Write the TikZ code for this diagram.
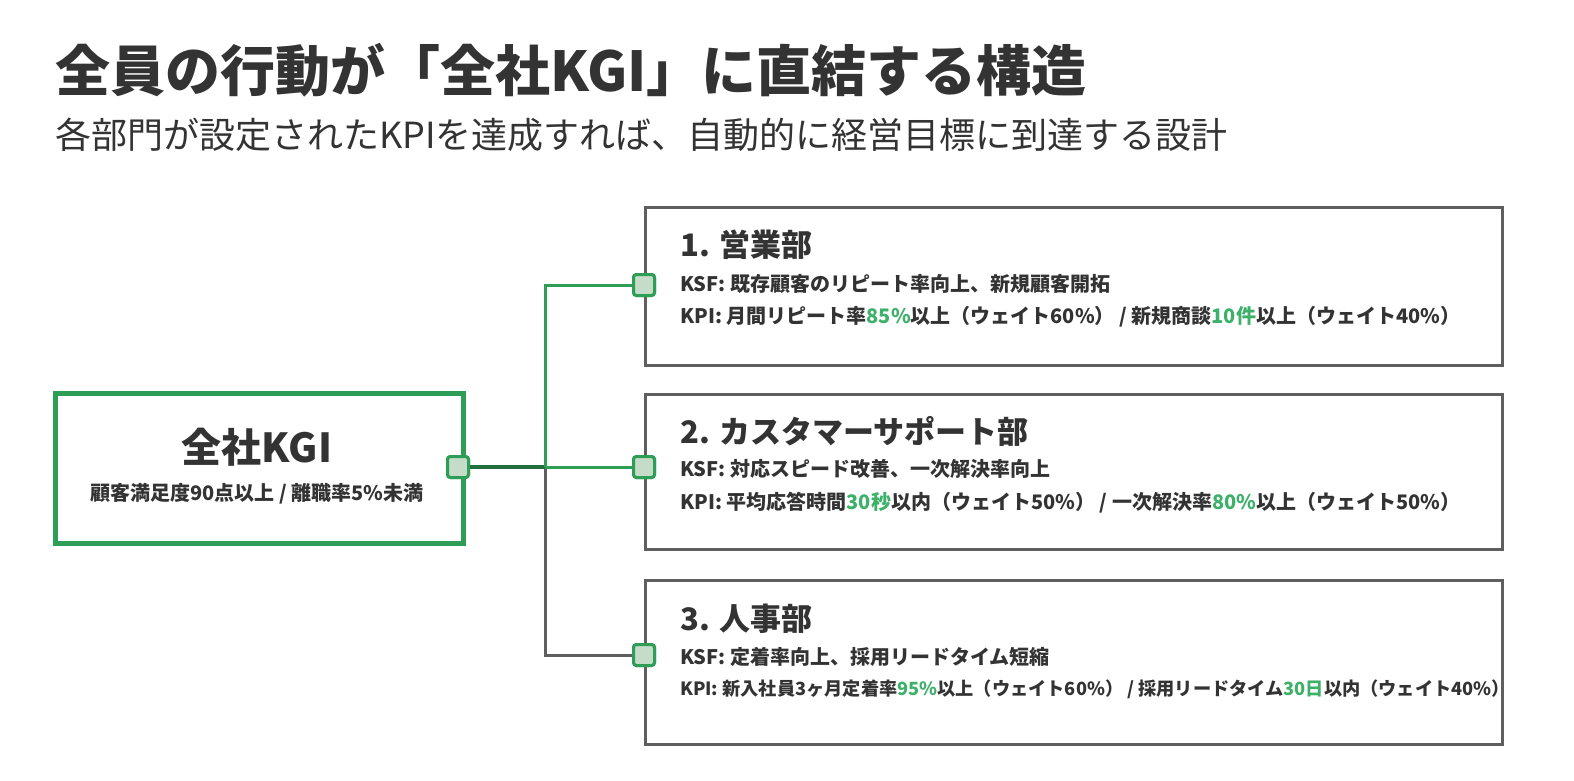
\documentclass[tikz,border=0pt]{standalone}
\usepackage{fontspec}
\setmainfont{Noto Sans CJK JP}
\usetikzlibrary{positioning}
\definecolor{kgigreen}{HTML}{2E9E57}
\definecolor{numgreen}{HTML}{3DB06A}
\definecolor{portfill}{HTML}{C4DCC8}
\definecolor{boxgray}{HTML}{5F5F5F}
\definecolor{inkgray}{HTML}{333333}
\newcommand{\hl}[1]{\textcolor{numgreen}{#1}}
\tikzset{
  dept/.style={draw=boxgray, line width=3pt, minimum width=857pt, minimum height=158pt, anchor=north west},
  port/.style={draw=kgigreen, fill=portfill, line width=3pt, rounded corners=3pt, minimum size=21pt, inner sep=0pt},
  line/.style={text=inkgray, anchor=west, font=\fontsize{20}{22}\selectfont\bfseries, inner sep=0pt},
  head/.style={text=inkgray, anchor=west, font=\fontsize{31}{34}\selectfont\bfseries, inner sep=0pt},
}
\begin{document}
\begin{tikzpicture}[x=1pt,y=-1pt]
   % Border.
   \useasboundingbox (0,0) rectangle (1574,780);
   % Text.
   \node[text=inkgray, anchor=west, inner sep=0pt, font=\fontsize{55}{60}\selectfont\bfseries] (title) at (55,70) {全員の行動が「全社KGI」に直結する構造};
   \node[text=inkgray, anchor=west, inner sep=0pt, font=\fontsize{36}{40}\selectfont] (subtitle) at (55,135) {各部門が設定されたKPIを達成すれば、自動的に経営目標に到達する設計};
   % KGI box.
   \node[draw=kgigreen, line width=4.5pt, minimum width=408pt, minimum height=150pt, anchor=north west] (kgi) at (53,391) {};
   \node[text=inkgray, font=\fontsize{40}{44}\selectfont\bfseries] (kgititle) at (257,447) {全社KGI};
   \node[text=inkgray, font=\fontsize{20}{22}\selectfont\bfseries] (kgisub) at (257,494) {顧客満足度90点以上 / 離職率5\%未満};
   % Departments.
   \node[dept] (sales) at (644,206) {};
   \node[dept, minimum height=155pt] (support) at (644,393) {};
   \node[dept, minimum height=164pt] (hr) at (644,579) {};
   \node[head] (salesh) at (680,245) {1. 営業部};
   \node[line] (salesa) at (680,284) {KSF: 既存顧客のリピート率向上、新規顧客開拓};
   \node[line] (salesb) at (680,317) {KPI: 月間リピート率\hl{85\%}以上（ウェイト60\%） / 新規商談\hl{10件}以上（ウェイト40\%）};
   \node[head] (supporth) at (680,431) {2. カスタマーサポート部};
   \node[line] (supporta) at (680,469) {KSF: 対応スピード改善、一次解決率向上};
   \node[line] (supportb) at (680,503) {KPI: 平均応答時間\hl{30秒}以内（ウェイト50\%） / 一次解決率\hl{80\%}以上（ウェイト50\%）};
   \node[head] (hrh) at (680,619) {3. 人事部};
   \node[line] (hra) at (680,657) {KSF: 定着率向上、採用リードタイム短縮};
   \node[line, font=\fontsize{18.2}{20}\selectfont\bfseries] (hrb) at (680,689) {KPI: 新入社員3ヶ月定着率\hl{95\%}以上（ウェイト60\%） / 採用リードタイム\hl{30日}以内（ウェイト40\%）};
   % Connectors.
   \coordinate (fork) at (545,467);
   \node[port] (p0) at (458,467) {};
   \node[port] (p1) at (644,285) {};
   \node[port] (p2) at (644,467) {};
   \node[port] (p3) at (644,655) {};
   \draw[boxgray, line width=3pt] (fork) |- (p3);
   \draw[kgigreen!70!black, line width=3.5pt] (p0) -- (fork);
   \draw[kgigreen, line width=3pt] (fork) |- (p1);
   \draw[kgigreen, line width=3pt] (fork) -- (p2);
   \node[port] at (p0) {};
   \node[port] at (p1) {};
   \node[port] at (p2) {};
   \node[port] at (p3) {};
\end{tikzpicture}
\end{document}
